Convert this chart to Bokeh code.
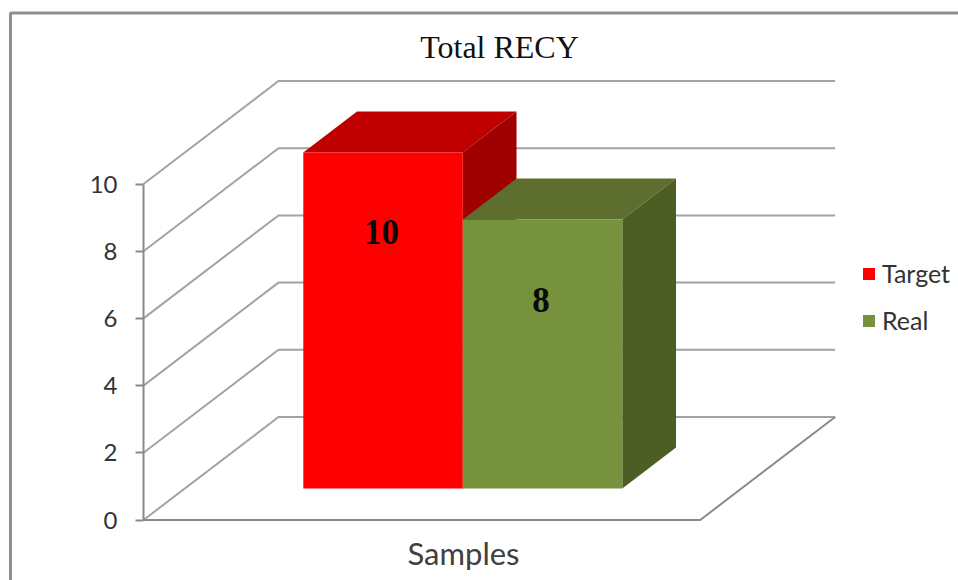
from bokeh.core.properties import value as fixed
from bokeh.embed import file_html
from bokeh.models import FixedTicker, Legend, LegendItem, Range1d
from bokeh.plotting import figure
from bokeh.resources import INLINE

title_text = "Total RECY"
axis_title = "Samples"
series_names = ["Target", "Real"]
series_values = [10, 8]
value_ticks = [0, 2, 4, 6, 8, 10]

front_colors = ["#ff0000", "#76923c"]
top_colors = ["#c00000", "#5e6e2e"]
side_colors = ["#a00000", "#4d5e25"]

WIDTH, HEIGHT = 958, 580
ORIGIN_X, ORIGIN_Y = 143.0, 519.5   # page position of category 0, value 0
PX_PER_BAR, PX_PER_VALUE = 159.5, 33.6
FLOOR_WIDTH = 3.49                  # in bar widths: gap + 2 bars + gap
DEPTH_X = 135.0 / PX_PER_BAR        # oblique shift of the back wall
DEPTH_Y = 103.0 / PX_PER_VALUE
BAR_NEAR, BAR_FAR = 0.307, 0.705    # depth span of the bars
GAP = 0.742
GRID = "#a3a3a3"
AXIS = "#8a8a8a"
TEXT = "#333333"
SANS = "Lato"
SERIF = "Liberation Serif"


def project(u, v, z):
    """Oblique projection of category position, value and depth."""
    return u + z * DEPTH_X, v + z * DEPTH_Y


def page_x(px):
    return (px - ORIGIN_X) / PX_PER_BAR


def page_y(px):
    return (ORIGIN_Y - px) / PX_PER_VALUE


def face(points):
    pairs = [project(*pt) for pt in points]
    return [a for a, _ in pairs], [b for _, b in pairs]


p = figure(
    width=WIDTH,
    height=HEIGHT,
    output_backend="svg",
    toolbar_location=None,
    min_border=0,
    x_range=Range1d(page_x(0), page_x(WIDTH)),
    y_range=Range1d(page_y(HEIGHT), page_y(0)),
    outline_line_color=None,
    background_fill_color="white",
)
p.grid.visible = False
p.xaxis.visible = False

# Value axis standing on the front left corner of the floor
axis = p.yaxis[0]
axis.fixed_location = 0
axis.bounds = (0, 10)
axis.ticker = FixedTicker(ticks=value_ticks)
axis.axis_line_color = AXIS
axis.axis_line_width = 2
axis.major_tick_line_color = AXIS
axis.major_tick_line_width = 2
axis.major_tick_in = 0
axis.major_tick_out = 8
axis.minor_tick_line_color = None
axis.major_label_standoff = 18
axis.major_label_text_font = SANS
axis.major_label_text_font_size = "24px"
axis.major_label_text_color = TEXT

# Chart frame running off the right and bottom of the page
p.line([page_x(10), page_x(10), page_x(WIDTH)],
       [page_y(HEIGHT), page_y(12.5), page_y(12.5)],
       line_color="#8f8f8f", line_width=3)

# Side wall, back wall and floor gridlines
for tick in value_ticks:
    xs, ys = face([(0, tick, 0), (0, tick, 1), (FLOOR_WIDTH, tick, 1)])
    p.line(xs, ys, line_color=GRID, line_width=2, line_join="miter")
xs, ys = face([(0, 0, 0), (FLOOR_WIDTH, 0, 0), (FLOOR_WIDTH, 0, 1)])
p.line(xs, ys, line_color=AXIS, line_width=2, line_join="miter")

# Bars, back to front and left to right
fronts = []
for i, val in enumerate(series_values):
    left, right = GAP + i, GAP + i + 1
    tx, ty = face([(left, val, BAR_NEAR), (right, val, BAR_NEAR),
                   (right, val, BAR_FAR), (left, val, BAR_FAR)])
    p.patch(tx, ty, fill_color=top_colors[i], line_color=None)
    sx, sy = face([(right, 0, BAR_NEAR), (right, val, BAR_NEAR),
                   (right, val, BAR_FAR), (right, 0, BAR_FAR)])
    p.patch(sx, sy, fill_color=side_colors[i], line_color=None)
    fx, fy = face([(left, 0, BAR_NEAR), (right, 0, BAR_NEAR),
                   (right, val, BAR_NEAR), (left, val, BAR_NEAR)])
    fronts.append(p.patch(fx, fy, fill_color=front_colors[i], line_color=None))

# Value labels centred on each bar's front, a fixed distance below its top
for i, val in enumerate(series_values):
    x, y = project(GAP + i + 0.5, val, BAR_NEAR)
    p.text([x], [y], text=[str(val)], x_offset=-1.5, y_offset=80,
           text_font=fixed(SERIF), text_font_style="bold",
           text_font_size="35px", text_color="#0a0a0a",
           text_align="center", text_baseline="middle")

p.text([page_x(499)], [page_y(46.5)], text=[title_text],
       text_font=fixed(SERIF), text_font_size="32px", text_color="#111111",
       text_align="center", text_baseline="middle")
p.text([page_x(463)], [page_y(552.5)], text=[axis_title],
       text_font=fixed(SANS), text_font_size="31px", text_color="#404040",
       text_align="center", text_baseline="middle")

legend = Legend(
    items=[LegendItem(label=name, renderers=[r]) for name, r in zip(series_names, fronts)],
    location=(861, 245),
    orientation="vertical",
    glyph_width=15,
    glyph_height=15,
    label_standoff=6,
    spacing=17,
    padding=0,
    margin=0,
    border_line_color=None,
    background_fill_alpha=0,
    label_text_font=SANS,
    label_text_font_size="25px",
    label_text_color=TEXT,
)
p.add_layout(legend, "center")

open("out.html", "w").write(file_html(p, INLINE))
